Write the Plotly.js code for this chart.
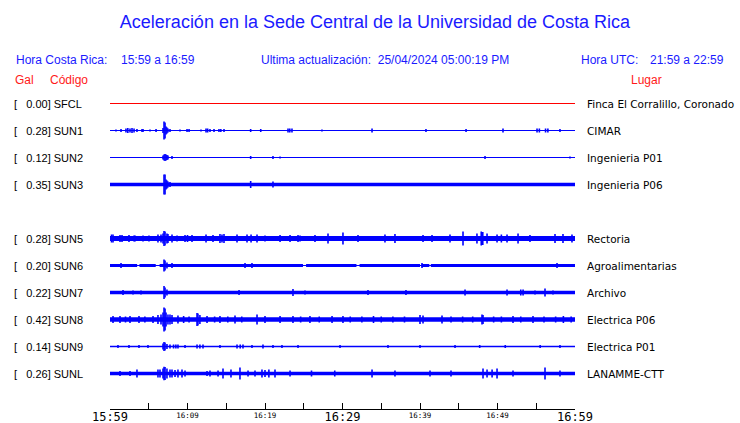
<!DOCTYPE html>
<html>
<head>
<meta charset="utf-8">
<script src="https://cdn.plot.ly/plotly-3.0.1.min.js"></script>
<style>html,body{margin:0;padding:0;background:#fff}#chart{width:740px;height:423px}</style>
</head>
<body>
<div id="chart"></div>
<script>
// ---------------- DATA ----------------
const stations = ['SFCL','SUN1','SUN2','SUN3','SUN4','SUN5','SUN6','SUN7','SUN8','SUN9','SUNL'];
const pgaGal   = [0.00, 0.28, 0.12, 0.35, null, 0.28, 0.20, 0.22, 0.42, 0.14, 0.26];
const places   = ['Finca El Corralillo, Coronado','CIMAR','Ingenieria P01','Ingenieria P06', null,
                  'Rectoria','Agroalimentarias','Archivo','Electrica P06','Electrica P01','LANAMME-CTT'];
// background noise half-amplitude of each trace (display units)
const baseAmp  = [0, 0, 0, 1.7, null, 2.5, 1.5, 1.7, 2.2, 0.8, 1.7];
// time axis (minutes after 15:59)
const tickMinutes = [0,5,10,15,20,25,30,35,40,45,50,55,60];
const majorTickMin = [0,30,60];
const majorTickText = ['15:59','16:29','16:59'];
const minorTickMin = [10,20,40,50];
const minorTickText = ['16:09','16:19','16:39','16:49'];
// quiet stretches (minutes) where the noise band thins out
const quiet_SUN6 = [[3.5,3.8],[5.9,6.4],[24.9,25.3],[31.8,32.2],[40.0,40.2],[41.2,41.4]];
// bursts: [minute, half-amplitude]
const ev_SFCL = [];
const ev_SUN1 = [[0.77,1],[1.42,1.5],[2.06,2],[2.3,2.5],[2.58,2],[2.84,2.5],[3.1,2],[3.48,1.5],[4.13,1.5],[4.26,1.5],[5.16,1],[5.94,1.5],[6.84,2.5],[6.97,9],[7.1,8],[7.23,4],[7.35,3],[7.48,2],[7.74,1.5],[9.03,1],[9.94,1.5],[10.2,1.5],[11.74,1],[12.39,2],[12.6,2],[12.9,1.5],[13.42,1.5],[14.06,1.5],[14.3,1.5],[14.71,1.5],[18.15,1.5],[19.45,1.5],[22.97,2],[23.2,2],[23.48,2],[27.35,1],[33.81,2],[40.77,1.5],[45.94,1.5],[50.71,2],[55.1,2],[55.4,2],[56.2,2],[56.5,2],[58.06,1.5]];
const ev_SUN2 = [[6.84,2],[6.97,3],[7.1,3.5],[7.23,3],[7.35,2.5],[7.48,2],[8.0,1.5],[18.15,1.5],[21.03,1.5],[21.94,1],[48.39,1.5],[59.35,1]];
const ev_SUN3 = [[6.97,10],[7.1,10],[7.23,5],[7.35,4],[7.48,3],[7.74,2.5],[18.15,3.5],[21.03,3]];
const ev_SUN4 = [];
const ev_SUN5 = [[0.2,4],[0.39,4],[1.29,3.5],[1.55,3.5],[2.45,3.5],[3.1,3],[3.23,3],[4.26,3],[5.03,3],[6.19,4],[6.58,4],[6.84,5],[6.97,7.5],[7.1,7],[7.35,5],[7.48,4.5],[8.0,4],[8.65,3],[9.68,3.5],[10.0,3.5],[10.58,3.5],[12.39,4],[13.29,3.5],[14.19,4.5],[14.45,4],[14.71,4.5],[16.39,4],[17.68,4],[18.2,4],[18.97,4],[20.0,3],[21.94,3.5],[23.23,3.5],[24.26,3.5],[24.52,3],[26.45,3.5],[28.13,5],[30.06,6],[32.0,3.5],[35.48,4],[36.77,4.5],[40.39,3.5],[41.55,3.5],[43.87,4],[45.55,7],[47.35,5],[47.9,7],[48.1,6.5],[48.65,5],[49.94,4],[50.5,4],[51.23,4],[52.65,5],[54.19,3.5],[57.42,4.5],[58.45,4.5],[59.61,4]];
const ev_SUN6 = [[1.42,2.5],[6.97,6],[7.1,5],[7.35,3],[8.0,2.5],[17.42,2.5],[18.32,2.5],[40.26,2.5],[57.68,2.5]];
const ev_SUN7 = [[1.68,2.5],[2.97,2],[4.0,2],[6.97,6.5],[7.1,5],[7.35,3],[16.65,2.5],[23.61,3.5],[25.16,2],[33.29,2.5],[38.19,2.5],[40.52,1.5],[45.81,3],[51.23,3],[53.0,3],[53.3,3],[54.84,2],[56.13,4],[57.16,2]];
const ev_SUN8 = [[0.39,3.5],[1.29,3.5],[2.0,3],[2.58,3.5],[3.74,3.5],[4.5,3],[5.55,3.5],[6.19,4.5],[6.58,5],[6.84,7],[6.97,12],[7.1,11],[7.23,7],[7.48,5],[7.74,5],[8.0,4.5],[8.77,4],[9.5,3.5],[10.2,3],[11.23,6.5],[11.35,6],[11.6,4.5],[12.52,3.5],[13.5,3],[14.19,3.5],[15.2,3],[16.13,4],[17.0,3],[18.97,5],[20.0,3.5],[21.94,3.5],[23.61,3.5],[24.6,3],[25.8,3.5],[27.0,3],[28.65,3.5],[30.06,3.5],[31.0,3],[32.5,3],[34.0,3.5],[35.0,3],[36.5,3],[38.0,3],[40.0,4.5],[40.39,4],[42.84,4],[44.0,3],[45.5,3],[46.8,3],[48.0,5],[48.13,4.5],[49.5,3],[50.5,3],[52.0,3.5],[53.0,3],[54.58,3.5],[56.0,3],[57.5,3],[58.5,3.5],[59.5,3]];
const ev_SUN9 = [[1.03,1.5],[2.45,1.5],[3.74,1.5],[4.9,1.5],[6.84,3],[6.97,4.5],[7.1,4],[7.35,2.5],[7.74,2],[8.2,2],[8.5,2],[8.77,2],[9.68,1.5],[11.23,2],[11.6,2],[12.0,2],[14.19,1.5],[16.39,2],[16.8,2],[17.16,2],[18.32,1.5],[19.74,2],[21.03,1.5],[22.19,1.5],[24.26,1.5],[29.68,1.5],[35.87,1.5],[40.0,1.5],[44.52,1.5],[47.7,1.5],[51.0,1.5],[55.5,1.5],[58.06,1.5]];
const ev_SUNL = [[1.29,2.5],[2.58,2.5],[3.48,4],[6.19,4],[6.45,4],[6.84,5],[6.97,6.7],[7.1,6.5],[7.35,5],[7.74,4],[8.0,4],[8.39,3.5],[8.77,4],[9.29,4],[9.68,3],[12.52,2.5],[12.9,3],[13.94,3],[14.58,5],[15.61,4],[16.77,6],[17.81,3],[18.71,3],[19.61,4],[20.0,3.5],[20.5,4],[21.29,4],[23.23,3],[26.0,3],[29.0,3],[33.81,4],[36.77,3],[41.29,3],[44.0,3],[48.13,5],[48.65,4],[49.3,4],[49.94,5],[52.0,3],[56.13,6],[58.06,3]];
const events = {SFCL:ev_SFCL,SUN1:ev_SUN1,SUN2:ev_SUN2,SUN3:ev_SUN3,SUN4:ev_SUN4,SUN5:ev_SUN5,SUN6:ev_SUN6,SUN7:ev_SUN7,SUN8:ev_SUN8,SUN9:ev_SUN9,SUNL:ev_SUNL};
const quiet = {SUN6: quiet_SUN6};
const traceColors = ['#ff0000','#0000ff','#0000ff','#0000ff',null,'#0000ff','#0000ff','#0000ff','#0000ff','#0000ff','#0000ff'];

// ---------------- DRAWING ----------------
const ROW_PX = 27;          // display units per row (amplitudes are in these units)
const T0 = 0, T1 = 60;
const traces = [];
stations.forEach((code, i) => {
  if (pgaGal[i] === null) return;
  const col = traceColors[i];
  const s = 1 / ROW_PX;
  traces.push({type:'scatter', mode:'lines', x:[T0,T1], y:[i,i], line:{color:col,width:1}, hoverinfo:'skip'});
  const a = baseAmp[i];
  if (a > 0) {
    const q = (quiet[code] || []).slice().sort((p,r)=>p[0]-r[0]);
    const segs = []; let cur = T0;
    q.forEach(([qs,qe]) => { segs.push([cur,qs]); cur = qe; });
    segs.push([cur,T1]);
    const bx = [], by = [];
    segs.forEach(([xs,xe]) => {
      bx.push(xs,xe,xe,xs,xs,null);
      by.push(i-a*s,i-a*s,i+a*s,i+a*s,i-a*s,null);
    });
    traces.push({type:'scatter', mode:'lines', x:bx, y:by, fill:'toself', fillcolor:col, line:{width:0,color:col}, hoverinfo:'skip'});
  }
  const ex = [], ey = [];
  events[code].forEach(([t,amp]) => { ex.push(t,t,null); ey.push(i-amp*s, i+amp*s, null); });
  if (ex.length) traces.push({type:'scatter', mode:'lines', x:ex, y:ey, line:{color:col,width:1.6}, hoverinfo:'skip'});
});
traces.push({type:'scatter', mode:'markers', x:[T0], y:[0], xaxis:'x2', yaxis:'y', marker:{opacity:0}, hoverinfo:'skip'});

const L = 110, R = 575, T = 90, B = 409;
const px = v => (v - L) / (R - L);
const py = v => (B - v) / (B - T);
const annotations = [];
function ann(text, x, y, color, size, family, xanchor, yref) {
  annotations.push({text, x: px(x - 2), xref:'paper', y: yref==='y' ? y : py(y), yref: yref||'paper',
    xanchor: xanchor||'left', yanchor:'middle', showarrow:false,
    font:{color, size, family: family||'Liberation Sans, Arial, sans-serif'}});
}
const nb = '\u00a0';
ann('Hora Costa Rica:', 15.5, 60.5, '#1a1aff', 12);
ann('15:59 a 16:59', 121, 60.5, '#1a1aff', 12);
ann('Ultima actualización:' + nb + nb + '25/04/2024 05:00:19 PM', 260.5, 60.5, '#1a1aff', 12);
ann('Hora UTC:', 580.5, 60.5, '#1a1aff', 12);
ann('21:59 a 22:59', 650, 60.5, '#1a1aff', 12);
ann('Gal', 15, 80, '#ff1a1a', 12);
ann('Código', 50, 80, '#ff1a1a', 12);
ann('Lugar', 630.5, 80, '#ff1a1a', 12);
stations.forEach((code, i) => {
  if (pgaGal[i] === null) return;
  const v = pgaGal[i].toFixed(2).padStart(7, nb);
  ann('[' + v + '] ' + code, 14, i, '#000000', 11, 'Liberation Sans, Arial, sans-serif', 'left', 'y');
  ann(places[i], 587, i, '#000000', 10.5, 'DejaVu Sans, sans-serif', 'left', 'y');
});

const ROW0_PX = 103.5, ROWLAST_PX = 373.5;
const layout = {
  width: 740, height: 423,
  margin: {l: L, r: 740 - R, t: T, b: 423 - B, pad: 0},
  paper_bgcolor: '#ffffff', plot_bgcolor: '#ffffff',
  showlegend: false,
  title: {text: 'Aceleración en la Sede Central de la Universidad de Costa Rica',
          x: 375/740, xref:'container', xanchor:'center', y: 1 - 22/423, yref:'container', yanchor:'middle',
          font: {family:'Liberation Sans, Arial, sans-serif', size: 18, color:'#1a1aff'}},
  xaxis: {range:[T0,T1], showgrid:false, zeroline:false, showline:true, linecolor:'#000', linewidth:1,
          ticks:'inside', ticklen:6, tickcolor:'#000', tickwidth:1,
          tickmode:'array', tickvals: tickMinutes,
          ticktext: tickMinutes.map(m => { const k = majorTickMin.indexOf(m); return k >= 0 ? majorTickText[k] : ''; }),
          ticklabelstandoff: -3,
          tickfont:{family:'DejaVu Sans Mono, monospace', size:12, color:'#000'}, fixedrange:true},
  xaxis2: {range:[T0,T1], overlaying:'x', anchor:'y', side:'bottom', showgrid:false, zeroline:false, showline:false,
           ticks:'', tickmode:'array', tickvals: minorTickMin, ticktext: minorTickText,
           tickfont:{family:'DejaVu Sans Mono, monospace', size:7.5, color:'#000'}, fixedrange:true},
  yaxis: {range:[10 + (B - ROWLAST_PX)/ROW_PX, -(ROW0_PX - T)/ROW_PX], visible:false, fixedrange:true},
  annotations
};
Plotly.newPlot('chart', traces, layout, {staticPlot:true, displayModeBar:false});
</script>
</body>
</html>
